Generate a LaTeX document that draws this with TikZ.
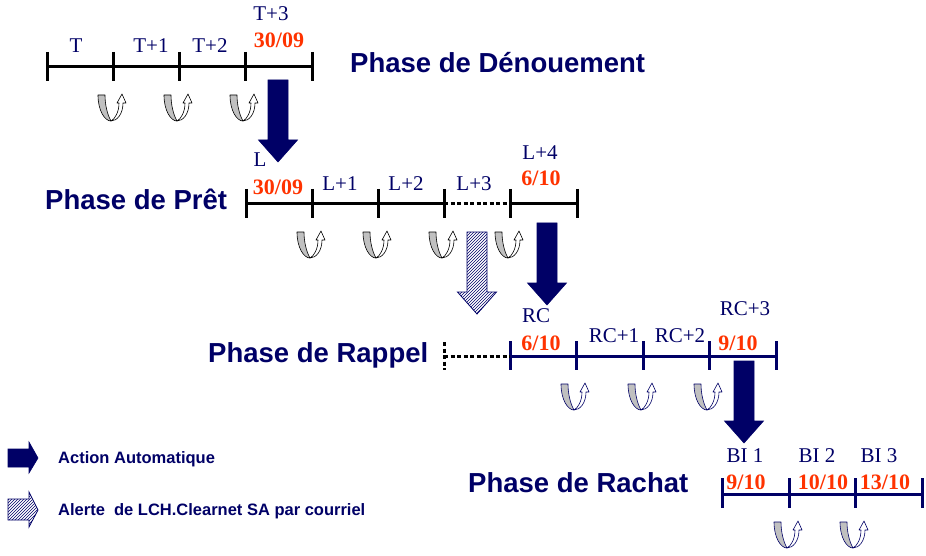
\documentclass[tikz,border=0pt]{standalone}
\usepackage{fontspec}
\setmainfont{Liberation Serif}
\newfontfamily\arialfont{Liberation Sans}
\usetikzlibrary{patterns,calc}
\definecolor{navy}{RGB}{0,0,102}
\definecolor{datered}{RGB}{255,51,0}
\definecolor{curlgray}{RGB}{192,192,192}
\begin{document}
\begin{tikzpicture}[x=1pt,y=-1pt,
  lbl/.style={anchor=base,inner sep=0,text=navy,font=\fontsize{21}{21}\selectfont},
  datelbl/.style={anchor=base,inner sep=0,text=datered,font=\fontsize{22}{22}\selectfont\bfseries},
  phase/.style={anchor=base west,inner sep=0,text=navy,font=\arialfont\fontsize{27.5}{27.5}\selectfont\bfseries},
  legendtxt/.style={anchor=base west,inner sep=0,text=navy,font=\arialfont\fontsize{16.5}{16.5}\selectfont\bfseries},
  tline/.style={line width=3pt},
  dotline/.style={line width=3pt,dash pattern=on 4pt off 2.5pt},
  autoarrow/.style={fill=navy,draw=navy,line width=0.6pt},
  mailarrow/.style={draw=navy,pattern=north east lines,pattern color=navy,line width=0.8pt},
  pics/curl/.style={code={
    \draw[#1,fill=curlgray,line width=0.6pt,line join=round]
      (-15,1) .. controls (-15,17) and (-8,27) .. (-2,27)
      .. controls (-6,20) and (-8,10) .. (-8,1) -- cycle;
    \draw[#1,fill=white,line width=0.6pt,line join=round]
      (-2,27) .. controls (2,25) and (6,18) .. (6,9) -- (4,9) -- (9,0) -- (13,9) -- (10,9)
      .. controls (10,20) and (4,27) .. (-2,27) -- cycle;
  }},
  pics/bigdown/.style={code={
    \draw[#1] (-10,-82) -- (10,-82) -- (10,-22) -- (19.5,-22) -- (0,0)
      -- (-19.5,-22) -- (-10,-22) -- cycle;
  }}
]
\useasboundingbox (0,0) rectangle (926,556);

% ---------- Phase de Denouement ----------
\foreach \i/\x in {0/47,1/113,2/179,3/245,4/312} {
  \coordinate (a\i) at (\x,67);
  \draw[tline,black] (a\i) ++(0,-15) -- ++(0,29);
}
\draw[tline,black] (a0) -- (a4);
\node[lbl] (t0) at (76,53) {T};
\node[lbl] (t1) at (151,53) {T+1};
\node[lbl] (t2) at (210,53) {T+2};
\node[lbl] (t3) at (271,21) {T+3};
\node[datelbl] (d1) at (279,48) {30/09};
\node[phase] (ph1) at (350,73) {Phase de Dénouement};
\foreach \i in {1,2,3} { \pic at ($(a\i)+(0,27)$) {curl=black}; }

% ---------- Phase de Pret ----------
\foreach \i/\x in {0/246,1/312,2/378,3/444,4/510,5/577} {
  \coordinate (b\i) at (\x,204);
  \draw[tline,black] (b\i) ++(0,-15) -- ++(0,29);
}
\draw[tline,black] (b0) -- (b3);
\draw[dotline,black] (b3) -- (b4);
\draw[tline,black] (b4) -- (b5);
\node[lbl] (l0) at (260,167) {L};
\node[datelbl] (d2) at (278,195) {30/09};
\node[lbl] (l1) at (340,191) {L+1};
\node[lbl] (l2) at (406,191) {L+2};
\node[lbl] (l3) at (474,191) {L+3};
\node[lbl] (l4) at (540,160) {L+4};
\node[datelbl] (d3) at (541,186) {6/10};
\node[phase] (ph2) at (45,210) {Phase de Prêt};
\foreach \i in {1,2,3,4} { \pic at ($(b\i)+(0,27)$) {curl=black}; }

% ---------- Phase de Rappel ----------
\foreach \i/\x in {0/510,1/576,2/643,3/709,4/776} {
  \coordinate (c\i) at (\x,356);
  \draw[tline,navy] (c\i) ++(0,-15) -- ++(0,29);
}
\coordinate (cs) at (444,356);
\draw[tline,navy] (c0) -- (c4);
\draw[dotline,black] (cs) -- (c0);
\draw[dotline,black] (cs) ++(0,-14) -- ++(0,28);
\node[lbl] (r0) at (536,322) {RC};
\node[datelbl] (d4) at (541,350) {6/10};
\node[lbl] (r1) at (614,342) {RC+1};
\node[lbl] (r2) at (680,342) {RC+2};
\node[lbl] (r3) at (745,315) {RC+3};
\node[datelbl] (d5) at (738,350) {9/10};
\node[phase] (ph3) at (208,362) {Phase de Rappel};
\foreach \i in {1,2,3} { \pic at ($(c\i)+(0,27)$) {curl=navy}; }

% ---------- Phase de Rachat ----------
\foreach \i/\x in {0/722,1/789,2/855,3/922} {
  \coordinate (e\i) at (\x,494);
  \draw[tline,navy] (e\i) ++(0,-16) -- ++(0,30);
}
\draw[tline,navy] (e0) -- (e3);
\node[lbl] (bi1) at (745,462) {BI 1};
\node[lbl] (bi2) at (817,462) {BI 2};
\node[lbl] (bi3) at (879,462) {BI 3};
\node[datelbl] (d6) at (746,489) {9/10};
\node[datelbl] (d7) at (823,489) {10/10};
\node[datelbl] (d8) at (885,489) {13/10};
\node[phase] (ph4) at (468,492) {Phase de Rachat};
\foreach \i in {1,2} { \pic at ($(e\i)+(0,27)$) {curl=navy}; }

% ---------- transition arrows ----------
\pic at (278,162) {bigdown=autoarrow};
\pic at (477,314) {bigdown=mailarrow};
\pic at (547,305) {bigdown=autoarrow};
\pic at (744,443) {bigdown=autoarrow};

% ---------- legend ----------
\draw[autoarrow] (8,449) -- (29,449) -- (29,442) -- (38,458) -- (29,473) -- (29,467) -- (8,467) -- cycle;
\node[legendtxt] (leg1) at (58,463) {Action Automatique};
\draw[mailarrow] (8,499) -- (29,499) -- (29,492) -- (38,510) -- (29,527) -- (29,520) -- (8,520) -- cycle;
\node[legendtxt] (leg2) at (58,515) {Alerte~ de LCH.Clearnet SA par courriel};
\end{tikzpicture}
\end{document}
